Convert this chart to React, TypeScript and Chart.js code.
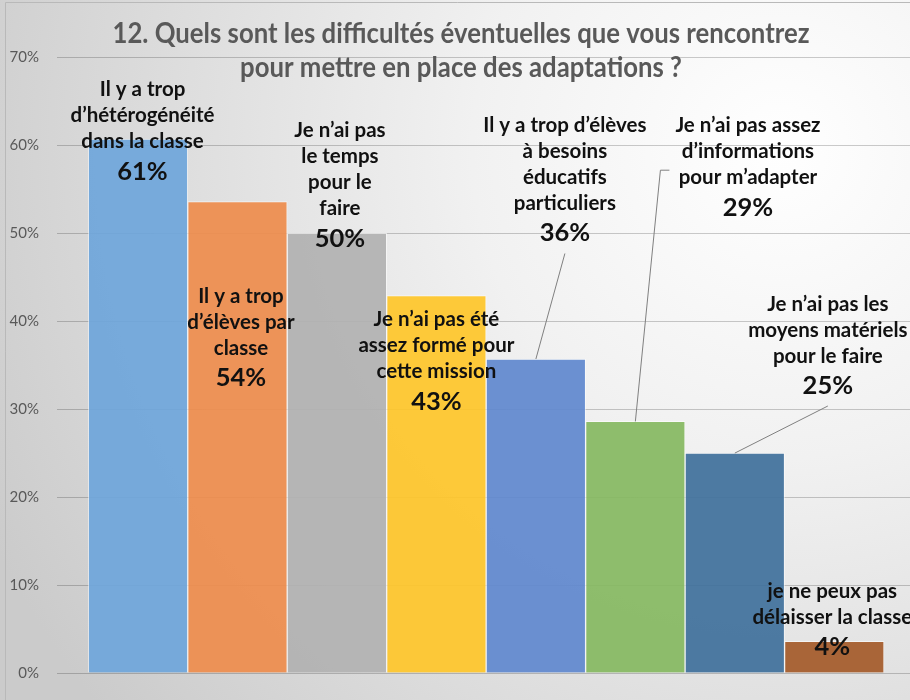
import React, { useEffect, useRef } from "react";
import { Chart, registerables } from "chart.js";

Chart.register(...registerables);

// ---------- data ----------
const categories = [
  "Il y a trop d’hétérogénéité dans la classe",
  "Il y a trop d’élèves par classe",
  "Je n’ai pas le temps pour le faire",
  "Je n’ai pas été assez formé pour cette mission",
  "Il y a trop d’élèves à besoins éducatifs particuliers",
  "Je n’ai pas assez d’informations pour m’adapter",
  "Je n’ai pas les moyens matériels pour le faire",
  "je ne peux pas délaisser la classe",
];
const values = [60.7, 53.6, 50.0, 42.9, 35.7, 28.6, 25.0, 3.6];
const labelLines = [
  ["Il y a trop", "d’hétérogénéité", "dans la classe"],
  ["Il y a trop", "d’élèves par", "classe"],
  ["Je n’ai pas", "le temps", "pour le", "faire"],
  ["Je n’ai pas été", "assez formé pour", "cette mission"],
  ["Il y a trop d’élèves", "à besoins", "éducatifs", "particuliers"],
  ["Je n’ai pas assez", "d’informations", "pour m’adapter"],
  ["Je n’ai pas les", "moyens matériels", "pour le faire"],
  ["je ne peux pas", "délaisser la classe"],
];
const titleLines = [
  "12. Quels sont les difficultés éventuelles que vous rencontrez",
  "pour mettre en place des adaptations ?",
];
const yTickValues = [0, 10, 20, 30, 40, 50, 60, 70];

// ---------- styles / layout ----------
const barColors = [
  "rgba(111,166,218,0.93)",
  "rgba(238,141,78,0.93)",
  "rgba(178,178,178,0.93)",
  "rgba(254,198,43,0.93)",
  "rgba(97,137,207,0.93)",
  "rgba(134,185,98,0.93)",
  "rgba(65,113,156,0.93)",
  "rgba(165,91,43,0.93)",
];
// offset of each label (center x, first baseline) from its bar's top-centre
const labelOffsets: [number, number][] = [
  [4.5, -42.7],
  [3.5, 101],
  [3, -96],
  [0, 30.5],
  [29, -227],
  [112.6, -289],
  [93, -142.6],
  [-2, -43.5],
];
const leaderKinds = [null, null, null, null, "bottom", "left", "bottom", null];
const LINE_H = 26;
const PCT_GAP = 31.5;
const LABEL_FONT = "bold 20.5px Lato";
const PCT_FONT = "bold 25.5px Lato";
const TITLE_FONT = "bold 28px Lato";
const TITLE_WIDTH = 697;

const overlayPlugin = {
  id: "overlay",
  beforeDraw(chart: any) {
    const { ctx, width, height } = chart;
    ctx.save();
    const g = ctx.createRadialGradient(780, 150, 0, 780, 150, 880);
    g.addColorStop(0, "#ffffff");
    g.addColorStop(0.35, "#f1f1f1");
    g.addColorStop(1, "#cbcbcb");
    ctx.fillStyle = g;
    ctx.fillRect(0, 0, width, height);
    ctx.strokeStyle = "#b9b9b9";
    ctx.lineWidth = 1;
    ctx.beginPath();
    ctx.moveTo(5.5, height);
    ctx.lineTo(5.5, 2.5);
    ctx.lineTo(width, 2.5);
    ctx.stroke();
    ctx.restore();
  },
  afterDraw(chart: any) {
    const { ctx } = chart;
    const meta = chart.getDatasetMeta(0);
    ctx.save();
    // title (horizontally condensed to the original's width)
    ctx.fillStyle = "#595959";
    ctx.font = TITLE_FONT;
    ctx.textAlign = "center";
    ctx.textBaseline = "alphabetic";
    const tx = chart.width / 2 + 6;
    const sx = TITLE_WIDTH / ctx.measureText(titleLines[0]).width;
    ctx.save();
    ctx.translate(tx, 0);
    ctx.scale(sx, 1);
    ctx.fillText(titleLines[0], 0, 43);
    ctx.fillText(titleLines[1], 0, 77);
    ctx.restore();

    // data labels
    meta.data.forEach((bar: any, i: number) => {
      const [dx, dy] = labelOffsets[i];
      const cx = bar.x + dx;
      const y0 = bar.y + dy;
      const lines = labelLines[i];
      ctx.fillStyle = "#111111";
      ctx.font = LABEL_FONT;
      let maxW = 0;
      lines.forEach((t, k) => {
        ctx.fillText(t, cx, y0 + k * LINE_H);
        maxW = Math.max(maxW, ctx.measureText(t).width);
      });
      const py = y0 + (lines.length - 1) * LINE_H + PCT_GAP;
      ctx.font = PCT_FONT;
      ctx.fillText(Math.round(values[i]) + "%", cx, py);

      const kind = leaderKinds[i];
      if (kind) {
        ctx.strokeStyle = "#808080";
        ctx.lineWidth = 1;
        ctx.beginPath();
        if (kind === "bottom") {
          ctx.moveTo(cx, py + 12);
          ctx.lineTo(bar.x, bar.y);
        } else {
          const left = cx - maxW / 2 - 6;
          const mid = (y0 - 16 + py + 8) / 2;
          ctx.moveTo(bar.x, bar.y);
          ctx.lineTo(left - 9, mid);
          ctx.lineTo(left, mid);
        }
        ctx.stroke();
      }
    });
    ctx.restore();
  },
};

export default function App() {
  const ref = useRef<HTMLCanvasElement | null>(null);
  useEffect(() => {
    if (!ref.current) return;
    const chart = new Chart(ref.current, {
      type: "bar",
      data: {
        labels: categories,
        datasets: [
          {
            label: "Difficultés",
            data: values.map((v, i) => ({ x: i, y: v })),
            backgroundColor: barColors,
            borderColor: "rgba(255,255,255,0.55)",
            borderWidth: 1,
            categoryPercentage: 1,
            barPercentage: 1,
          },
        ],
      },
      options: {
        animation: false,
        responsive: false,
        devicePixelRatio: 1,
        layout: { padding: { top: 57.3, bottom: 24.7, left: 0, right: 0 } },
        plugins: {
          legend: { display: false },
          title: { display: false },
          tooltip: { enabled: false },
        },
        scales: {
          x: {
            type: "linear",
            min: -0.8144,
            max: 7.761,
            display: false,
            offset: false,
            grid: { display: false },
            afterBuildTicks: (s: any) => {
              s.ticks = values.map((_, i) => ({ value: i }));
            },
          },
          y: {
            min: 0,
            max: 70,
            afterFit: (s: any) => {
              s.width = 57;
            },
            afterBuildTicks: (s: any) => {
              s.ticks = yTickValues.map((v) => ({ value: v }));
            },
            border: { display: false },
            grid: {
              color: "rgba(0,0,0,0.2)",
              lineWidth: 1,
              drawTicks: false,
            },
            ticks: {
              padding: 18,
              color: "#595959",
              font: { family: "Lato", size: 15 },
              callback: (v: any) => v + "%",
            },
          },
        },
      },
      plugins: [overlayPlugin],
    });
    return () => chart.destroy();
  }, []);
  return (
    <div style={{ position: "fixed", left: 0, top: 0, width: 910, height: 700 }}>
      <canvas ref={ref} width={910} height={700} />
    </div>
  );
}
